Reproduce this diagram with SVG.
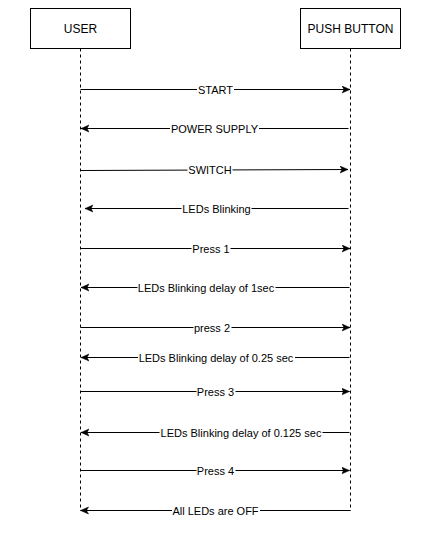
<svg xmlns="http://www.w3.org/2000/svg" width="422" height="545" viewBox="0 0 422 545">
<style>
.box{fill:#fff;stroke:#000;stroke-width:1}
.life{stroke:#000;stroke-width:1;stroke-dasharray:3,3;fill:none}
.msg{stroke:#000;stroke-width:1;fill:none;marker-end:url(#arr)}
.bg{fill:#fff}
.lbl{font-family:"Liberation Sans",Arial,sans-serif;font-size:11px;fill:#000;text-anchor:middle}
.title{font-family:"Liberation Sans",Arial,sans-serif;font-size:12px;fill:#000;text-anchor:middle}
</style>
<defs>
<marker id="arr" markerUnits="userSpaceOnUse" markerWidth="10" markerHeight="9" refX="8" refY="4" orient="auto">
<path d="M0,0.5 L8,4 L0,7.5 L2,4 z" fill="#000" stroke="#000" stroke-width="0.5"/>
</marker>
</defs>
<g id="user">
<rect class="box" x="30.5" y="8.5" width="100" height="40"/>
<text class="title" x="80.5" y="32.5">USER</text>
<line class="life" x1="80.5" y1="48.5" x2="80.5" y2="511"/>
</g>
<g id="pushbutton">
<rect class="box" x="300.5" y="8.5" width="100" height="40"/>
<text class="title" x="350.5" y="32.5">PUSH BUTTON</text>
<line class="life" x1="350.5" y1="48.5" x2="350.5" y2="511"/>
</g>
<g id="connectors">
<line class="msg" x1="80.5" y1="89.5" x2="350" y2="89.5"/>
<rect class="bg" x="197" y="83" width="37" height="13"/>
<text class="lbl" x="215.5" y="93.5">START</text>

<line class="msg" x1="348.5" y1="128.5" x2="81" y2="128.5"/>
<rect class="bg" x="170" y="122" width="89" height="13"/>
<text class="lbl" x="214.5" y="132.5">POWER SUPPLY</text>

<line class="msg" x1="80.5" y1="170.5" x2="348" y2="169.5"/>
<rect class="bg" x="187.5" y="163.5" width="45" height="13"/>
<text class="lbl" x="210" y="174">SWITCH</text>

<line class="msg" x1="348.5" y1="208.5" x2="85" y2="208.5"/>
<rect class="bg" x="181.5" y="202" width="70" height="13"/>
<text class="lbl" x="216.5" y="212.5">LEDs Blinking</text>

<line class="msg" x1="80.5" y1="248.5" x2="350" y2="248.5"/>
<rect class="bg" x="191.5" y="242" width="39" height="13"/>
<text class="lbl" x="211" y="252.5">Press 1</text>

<line class="msg" x1="349.5" y1="287.5" x2="81" y2="287.5"/>
<rect class="bg" x="137.5" y="281" width="138" height="13"/>
<text class="lbl" x="206" y="291.5">LEDs Blinking delay of 1sec</text>

<line class="msg" x1="80.5" y1="327.5" x2="350" y2="327.5"/>
<rect class="bg" x="193.5" y="321" width="38" height="13"/>
<text class="lbl" x="212" y="331.5">press 2</text>

<line class="msg" x1="349.5" y1="357.5" x2="81" y2="357.5"/>
<rect class="bg" x="138" y="351" width="157" height="13"/>
<text class="lbl" x="216" y="361.5">LEDs Blinking delay of 0.25 sec</text>

<line class="msg" x1="80.5" y1="391.5" x2="349.5" y2="391.5"/>
<rect class="bg" x="196.5" y="385" width="39" height="13"/>
<text class="lbl" x="215.5" y="395.5">Press 3</text>

<line class="msg" x1="349.5" y1="432.5" x2="81" y2="432.5"/>
<rect class="bg" x="159.5" y="426" width="163" height="13"/>
<text class="lbl" x="241" y="436.5">LEDs Blinking delay of 0.125 sec</text>

<line class="msg" x1="80.5" y1="470.5" x2="349.5" y2="470.5"/>
<rect class="bg" x="196.5" y="464" width="39" height="13"/>
<text class="lbl" x="215.5" y="474.5">Press 4</text>

<line class="msg" x1="350.5" y1="510.5" x2="80.5" y2="510.5"/>
<rect class="bg" x="172" y="504" width="88" height="13"/>
<text class="lbl" x="215.5" y="514.5">All LEDs are OFF</text>
</g>
</svg>
